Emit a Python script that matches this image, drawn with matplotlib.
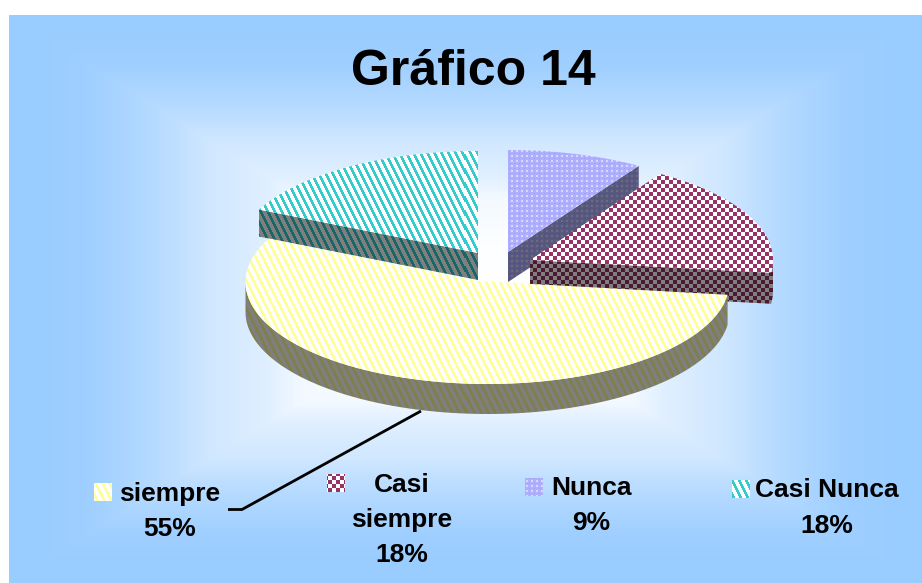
import numpy as np
import matplotlib
matplotlib.use("Agg")
import matplotlib.pyplot as plt
from matplotlib.patches import Polygon

plt.rcParams['font.family'] = ['Liberation Sans', 'DejaVu Sans']

# Data (clockwise from 12 o'clock, as drawn)
slices = ["Nunca", "Casi siempre", "siempre", "Casi Nunca"]
percents = [9, 18, 55, 18]

W, H = 922, 583

# exploded centre, radius and depth of each slice, in pixels
centers = {"Nunca": (508, 252), "Casi siempre": (530, 260), "siempre": (487.5, 282), "Casi Nunca": (478, 253)}
apexes = {"Nunca": (508, 252), "Casi siempre": (530, 260), "siempre": (478, 281), "Casi Nunca": (478, 253)}
radii = {"Nunca": 244, "Casi siempre": 243, "siempre": 242, "Casi Nunca": 242}
depths = {"Nunca": 30, "Casi siempre": 31, "siempre": 30, "Casi Nunca": 27}
RY = 102

fig = plt.figure(figsize=(W / 100, H / 100), dpi=100, facecolor='white')
ax = fig.add_axes([0, 0, 1, 1])
ax.set_xlim(0, W)
ax.set_ylim(H, 0)
ax.axis('off')

yy, xx = np.mgrid[0:H, 0:W]


def rgb(c):
    return np.array(matplotlib.colors.to_rgb(c))


def two_color(mask, fg, bg='#FFFFFF'):
    out = np.ones((H, W, 3)) * rgb(bg)
    out[mask] = rgb(fg)
    return out


def stripes(fg, period=7, width=3):
    return two_color(((xx - yy // 2) % period) < width, fg)


def checks(fg, cx=4, cy=4):
    return two_color(((xx // cx + yy // cy) % 2) == 0, fg)


def dots():
    out = two_color(np.ones((H, W), bool), '#AEAEFF')
    out[((xx % 5) < 2) & ((yy % 5) < 2)] = rgb('#D8D8FF')
    out[((xx % 5) == 3) & ((yy % 5) == 3)] = rgb('#9C9CF4')
    return out


textures = {
    "Nunca": dots(),
    "Casi siempre": checks('#993366'),
    "siempre": stripes('#FFFF99'),
    "Casi Nunca": stripes('#33CCCC'),
}

# background: rectangular gradient from the centre
bx0, bx1, by0, by1 = 9, 922, 15, 583
t = np.maximum(np.abs(xx - (bx0 + bx1) / 2) / ((bx1 - bx0) / 2), np.abs(yy - (by0 + by1) / 2) / ((by1 - by0) / 2))
f = np.interp(t, [0, 0.2, 0.36, 0.43, 0.57, 0.645, 0.73, 0.83, 0.95, 1],
              [0, 0.02, 0.12, 0.3, 0.48, 0.65, 0.8, 0.94, 1, 1])
bg = (1 - f[..., None]) * rgb('#FFFFFF') + f[..., None] * rgb('#99CCFF')
bg[:by0] = 1
bg[:, :bx0] = 1
ax.imshow(bg, extent=(0, W, H, 0), interpolation='nearest', zorder=0, aspect='auto')


def arc(name, a0, a1, n=120):
    th = np.radians(np.linspace(a0, a1, n))
    cx, cy = centers[name]
    return np.column_stack([cx + radii[name] * np.sin(th), cy - RY * np.cos(th)])


def fill(points, image, z):
    patch = Polygon(points, closed=True, transform=ax.transData, facecolor='none', edgecolor='none')
    ax.add_patch(patch)
    im = ax.imshow(image, extent=(0, W, H, 0), interpolation='nearest', zorder=z, aspect='auto')
    im.set_clip_path(patch)


# slice angles from the percentages
ends = np.cumsum(percents) / sum(percents) * 360
starts = np.concatenate([[0], ends[:-1]])
angle = {n: (a, b) for n, a, b in zip(slices, starts, ends)}

# paint back to front
order = ["Casi Nunca", "Nunca", "Casi siempre", "siempre"]
for i, name in enumerate(order):
    a0, a1 = angle[name]
    top = np.vstack([[apexes[name]], arc(name, a0, a1)])
    d = np.array([0, depths[name]])
    apex = np.array(apexes[name], float)
    dark = textures[name] * 0.5
    z = 2 + i * 2
    if name == "Casi Nunca":
        p0 = arc(name, a0, a0, 1)[0]
        fill([p0, apex, apex + d, p0 + d], dark, z)
    elif name == "Nunca":
        p1 = arc(name, a1, a1, 1)[0]
        fill([apex, p1, p1 + d, apex + d], dark, z)
    elif name == "Casi siempre":
        rim = arc(name, 90, a1, 20)
        side = np.vstack([[apex], rim[::-1], rim + d, [apex + d]])
        fill(side, dark, z)
    else:
        rim = arc(name, a0, 270)
        fill(np.vstack([rim, (rim + d)[::-1]]), dark, z)
    fill(top, textures[name], z + 1)

# leader line of siempre
ax.plot([228, 242, 421], [509.5, 509.5, 411], color='black', lw=2, solid_capstyle='butt', zorder=20)

# legend-style labels
label_font = dict(fontsize=19, fontweight='bold', color='black', ha='center', va='center', zorder=21)
ax.text(473, 72, "Gráfico 14", fontsize=36, fontweight='bold', ha='center', va='center', zorder=21)

ax.text(170, 494, "siempre", **label_font)
ax.text(170, 529, f"{percents[2]}%", **label_font)
ax.text(402, 485, "Casi", **label_font)
ax.text(402, 520, "siempre", **label_font)
ax.text(402, 555, f"{percents[1]}%", **label_font)
ax.text(591, 488, "Nunca", **label_font)
ax.text(591, 523, f"{percents[0]}%", **label_font)
ax.text(827, 490, "Casi Nunca", **label_font)
ax.text(827, 526, f"{percents[3]}%", **label_font)

swatches = [("siempre", 94, 483), ("Casi siempre", 327, 474), ("Nunca", 525, 478), ("Casi Nunca", 732, 480)]
for name, sx, sy in swatches:
    s = Polygon([(sx, sy), (sx + 18, sy), (sx + 18, sy + 18), (sx, sy + 18)], closed=True, facecolor='none', edgecolor='none')
    ax.add_patch(s)
    im = ax.imshow(textures[name], extent=(0, W, H, 0), interpolation='nearest', zorder=21, aspect='auto')
    im.set_clip_path(s)

ax.set_xlim(0, W)
ax.set_ylim(H, 0)
fig.savefig("out.png", dpi=100)
